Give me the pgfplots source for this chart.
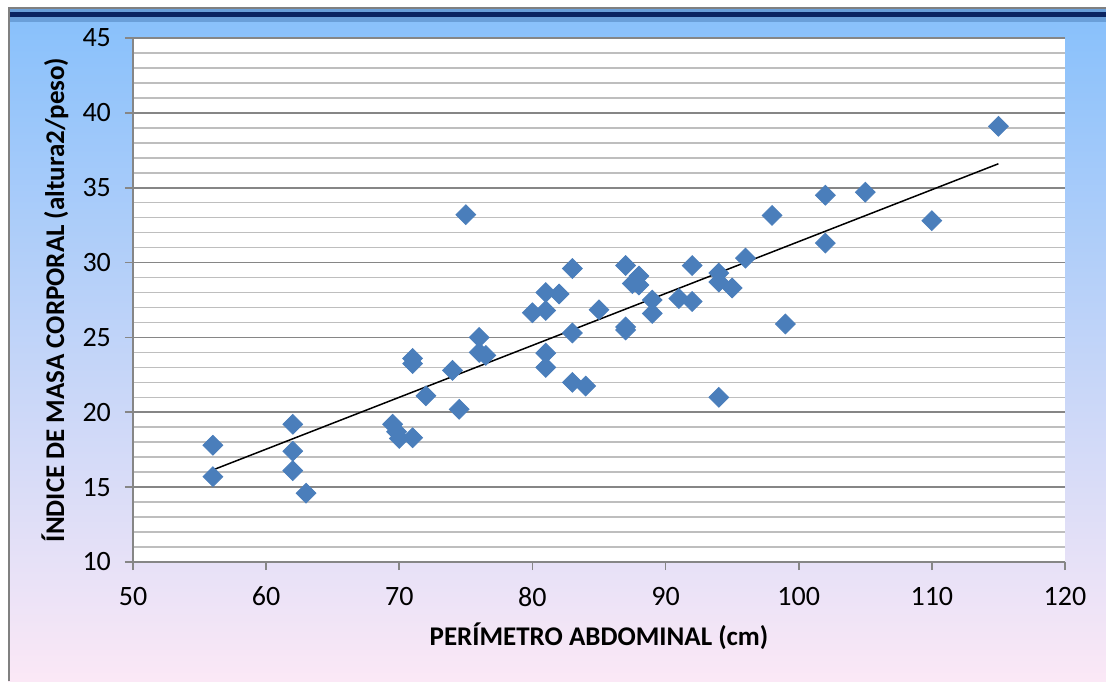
\documentclass[border=0pt]{standalone}
\usepackage{fontspec}
\setmainfont{Carlito}
\usepackage{pgfplots}
\pgfplotsset{compat=1.18}
\definecolor{markblue}{HTML}{4A7EBB}
\definecolor{gridmin}{HTML}{BEBEBE}
\definecolor{gridmaj}{HTML}{868686}
\definecolor{bgtop}{HTML}{87C0FB}
\definecolor{bgbot}{HTML}{FBE8F6}
\definecolor{medblue}{HTML}{6A9FD9}
\definecolor{navy}{HTML}{0B2461}
\definecolor{framegray}{HTML}{808080}
\begin{document}
\begin{tikzpicture}[x=0.5pt,y=0.5pt]
\path[use as bounding box] (0,0) rectangle (1106,681);
\shade[top color=bgtop, bottom color=bgbot] (8,0) rectangle (1106,673);
\fill[medblue] (8,659) rectangle (1106,672);
\fill[navy] (8,664) rectangle (1106,669);
\draw[framegray, line width=1pt] (8,672.5) -- (1106,672.5);
\draw[framegray, line width=1pt] (8.5,0) -- (8.5,673);
\begin{axis}[
  at={(66.5pt,59.5pt)}, anchor=south west,
  scale only axis, width=466pt, height=262pt,
  xmin=50, xmax=120, ymin=10, ymax=45,
  xtick={50,60,...,120}, ytick={10,15,...,45},
  minor ytick={11,12,13,14,16,17,18,19,21,22,23,24,26,27,28,29,31,32,33,34,36,37,38,39,41,42,43,44},
  ymajorgrids, yminorgrids,
  major grid style={draw=gridmaj, line width=0.8pt},
  minor grid style={draw=gridmin, line width=0.8pt},
  axis x line*=bottom, axis y line*=left,
  axis line style={draw=gridmaj, line width=0.8pt, -},
  tick style={draw=gridmaj, line width=0.8pt},
  tick align=outside, major tick length=4pt, minor tick length=0pt,
  axis background/.style={fill=white},
  /pgf/number format/assume math mode=true,
  tick label style={font=\fontsize{14}{16}\selectfont, text=black},
  yticklabel style={xshift=-3.5pt},
  xticklabel style={yshift=-5pt},
  label style={font=\fontsize{13.5}{16}\selectfont\bfseries, text=black},
  xlabel={PERÍMETRO ABDOMINAL (cm)},
  ylabel={ÍNDICE DE MASA CORPORAL (altura2/peso)},
  xlabel style={at={(axis description cs:0.5,-0.141)}, anchor=center},
  ylabel style={at={(axis description cs:-0.0837,0.5)}, anchor=center, rotate=0},
  clip=false,
]
\addplot[only marks, mark=square*, mark size=3.5pt, mark options={rotate=45, fill=markblue, draw=markblue}] table {
x y
56 17.8
56 15.7
62 19.2
62 17.4
62 16.1
63 14.6
69.5 19.2
69.8 18.7
70 18.25
71 18.3
71 23.6
71 23.25
72 21.1
74 22.8
74.5 20.2
75 33.2
76 25.0
76 24.0
76.5 23.8
80 26.65
81 28.0
81 26.8
81 23.95
81 23.0
82 27.9
83 29.6
83 25.3
83 22.0
84 21.75
85 26.85
87 29.8
87 25.7
87 25.5
87.5 28.6
88 29.1
88 28.5
89 27.5
89 26.6
91 27.6
92 29.8
92 27.4
94 29.3
94 28.7
94 21.0
95 28.3
96 30.3
98 33.15
99 25.9
102 34.5
102 31.3
105 34.7
110 32.8
115 39.1
};
\addplot[black, line width=0.75pt, mark=none] coordinates {(56,16.15) (115,36.6)};
\end{axis}
\end{tikzpicture}
\end{document}
